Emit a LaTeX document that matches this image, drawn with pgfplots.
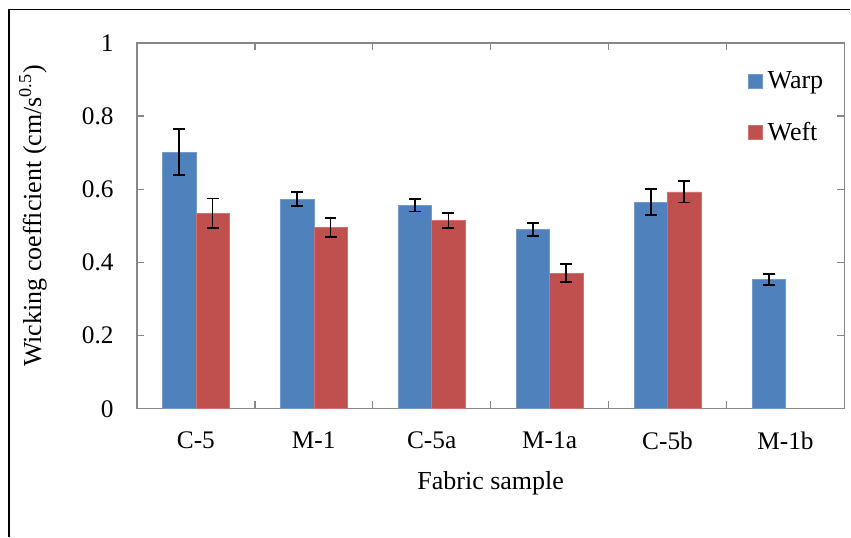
\documentclass[border=0pt]{standalone}
\usepackage{fontspec}
\setmainfont{Liberation Serif}
\setsansfont{Liberation Serif}
\usepackage{pgfplots}
\pgfplotsset{compat=1.18}
\definecolor{warpblue}{HTML}{4F81BD}
\definecolor{weftred}{HTML}{C0504D}
\definecolor{axgray}{HTML}{878787}
\newcommand{\tkfont}{\rmfamily\fontsize{19}{22}\selectfont}
\newcommand{\xlfont}{\rmfamily\fontsize{19.5}{23}\selectfont}
\newcommand{\ylfont}{\rmfamily\fontsize{19.5}{23}\selectfont}
\begin{document}
\begin{tikzpicture}
\path (0pt,0pt) rectangle (638.25pt,402.75pt);
\draw[line width=0.9pt,black] (6.75pt,0pt) -- (6.75pt,395.6pt) -- (638.25pt,395.6pt);
\begin{axis}[
  at={(102.75pt,96pt)}, anchor=south west,
  scale only axis, width=531pt, height=274.5pt,
  xmin=-0.5, xmax=5.5, ymin=0, ymax=1,
  ybar=0pt, bar width=25.1pt,
  axis line style={draw=axgray, line width=1.1pt},
  xtick={0,1,2,3,4,5},
  xticklabels={C-5,M-1,C-5a,M-1a,C-5b,M-1b},
  major x tick style={draw=none},
  extra x ticks={0.5,1.5,2.5,3.5,4.5},
  extra x tick labels={},
  extra x tick style={major x tick style={draw=axgray, line width=1.1pt}},
  ytick={0,0.2,0.4,0.6,0.8,1},
  y tick style={draw=axgray, line width=1.1pt},
  major tick length=5.5pt,
  tick align=inside,
  /pgf/number format/assume math mode=true,
  tick label style={font=\tkfont},
  yticklabel style={xshift=-14pt},
  xticklabel style={yshift=-14pt},
  xlabel={Fabric sample},
  xlabel style={font=\xlfont, at={(axis description cs:0.5,-0.205)}, anchor=center},
  ylabel={Wicking coefficient (cm/s\textsuperscript{0.5})},
  ylabel style={font=\ylfont, at={(axis description cs:-0.147,0.527)}, anchor=center},
  legend style={draw=none, fill=none, font=\xlfont, at={(axis description cs:0.863,0.93)}, anchor=north west, row sep=20pt, inner sep=0pt, nodes={inner xsep=4pt}},
  legend cell align=left,
  legend image code/.code={\fill[#1] (0pt,-5.2pt) rectangle (10.5pt,5.2pt);},
  error bars/y dir=both, error bars/y explicit,
  error bars/error bar style={black, line width=1.3pt},
  error bars/error mark options={rotate=90, mark size=4.5pt, line width=1.3pt, black},
]
\addplot[fill=warpblue, draw=warpblue!80!white, line width=0.4pt] coordinates {
  (0,0.701) +- (0,0.063)
  (1,0.573) +- (0,0.019)
  (2,0.556) +- (0,0.017)
  (3,0.490) +- (0,0.018)
  (4,0.565) +- (0,0.036)
  (5,0.354) +- (0,0.015)
};
\addplot[fill=weftred, draw=weftred!80!white, line width=0.4pt] coordinates {
  (0,0.535) +- (0,0.040)
  (1,0.495) +- (0,0.026)
  (2,0.515) +- (0,0.020)
  (3,0.371) +- (0,0.024)
  (4,0.593) +- (0,0.029)
};
\legend{Warp,Weft}
\end{axis}
\end{tikzpicture}
\end{document}
